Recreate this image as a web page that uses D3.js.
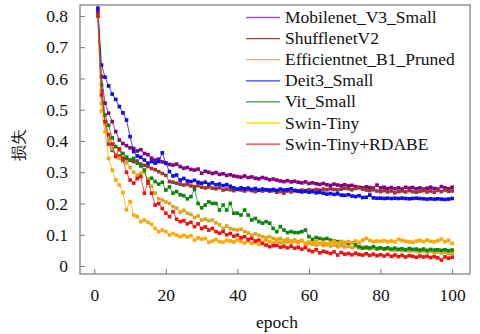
<!DOCTYPE html>
<html><head><meta charset="utf-8">
<script src="https://cdn.jsdelivr.net/npm/d3@7"></script>
</head><body style="margin:0">
<svg id="chart" width="480" height="334" style="display:block"></svg>
<script>
const seriesNames = ["Mobilenet_V3_Small","ShufflenetV2","Efficientnet_B1_Pruned","Deit3_Small","Vit_Small","Swin-Tiny","Swin-Tiny+RDABE"];
const seriesColors = ["#800080","#a03232","#daa520","#0a0aee","#0a850a","#ffa500","#ee1010"];
const legendColors = ["#9b59b6","#a0403a","#e8b650","#3c3cff","#3a9a3a","#ffdd00","#ee3030"];
const xTicks = [0,20,40,60,80,100];
const yTicks = [0,0.1,0.2,0.3,0.4,0.5,0.6,0.7,0.8];
const yTickLabels = ["0","0.1","0.2","0.3","0.4","0.5","0.6","0.7","0.8"];
const xLabel = "epoch";
const yLabel = "损失";

const mobilenet = [
0.815,0.606,0.521,0.489,0.462,0.430,0.403,0.392,0.385,0.378,
0.376,0.368,0.372,0.360,0.356,0.345,0.339,0.342,0.333,0.329,
0.325,0.323,0.326,0.318,0.313,0.315,0.309,0.307,0.310,0.297,
0.303,0.300,0.296,0.299,0.293,0.295,0.290,0.292,0.288,0.286,
0.284,0.288,0.283,0.285,0.281,0.279,0.283,0.280,0.276,0.278,
0.275,0.272,0.270,0.273,0.269,0.271,0.268,0.266,0.269,0.264,
0.266,0.263,0.261,0.264,0.260,0.258,0.262,0.259,0.257,0.260,
0.256,0.258,0.254,0.252,0.250,0.253,0.251,0.249,0.259,0.250,
0.252,0.248,0.251,0.247,0.250,0.246,0.252,0.249,0.251,0.247,
0.250,0.246,0.249,0.252,0.248,0.246,0.254,0.250,0.247,0.252];
const shufflenet = [
0.810,0.560,0.460,0.390,0.370,0.355,0.352,0.345,0.343,0.338,
0.334,0.336,0.326,0.322,0.318,0.312,0.308,0.302,0.296,0.290,
0.270,0.268,0.265,0.262,0.259,0.261,0.256,0.254,0.257,0.252,
0.250,0.253,0.249,0.247,0.250,0.243,0.246,0.244,0.241,0.245,
0.243,0.240,0.244,0.241,0.238,0.242,0.240,0.243,0.239,0.241,
0.236,0.238,0.233,0.240,0.237,0.242,0.239,0.243,0.241,0.244,
0.242,0.245,0.243,0.246,0.244,0.247,0.245,0.243,0.246,0.249,
0.247,0.244,0.248,0.250,0.246,0.243,0.241,0.244,0.240,0.238,
0.241,0.237,0.240,0.234,0.238,0.240,0.237,0.241,0.238,0.236,
0.239,0.241,0.237,0.240,0.236,0.242,0.238,0.243,0.239,0.240];
const efficientnet = [
0.800,0.520,0.455,0.405,0.375,0.355,0.345,0.337,0.330,0.315,
0.300,0.291,0.297,0.300,0.278,0.255,0.233,0.215,0.211,0.205,
0.200,0.190,0.185,0.172,0.178,0.169,0.165,0.155,0.160,0.147,
0.150,0.145,0.147,0.138,0.132,0.120,0.128,0.120,0.117,0.115,
0.118,0.110,0.106,0.099,0.103,0.098,0.094,0.090,0.094,0.088,
0.085,0.088,0.082,0.086,0.080,0.083,0.078,0.082,0.068,0.072,
0.070,0.067,0.071,0.066,0.068,0.064,0.067,0.062,0.065,0.061,
0.063,0.059,0.062,0.058,0.060,0.057,0.055,0.058,0.054,0.056,
0.053,0.055,0.052,0.050,0.053,0.049,0.051,0.048,0.050,0.047,
0.046,0.048,0.044,0.047,0.043,0.045,0.042,0.044,0.041,0.040];
const deit3 = [
0.825,0.643,0.604,0.576,0.550,0.533,0.510,0.490,0.467,0.414,
0.366,0.352,0.348,0.339,0.329,0.334,0.329,0.334,0.362,0.329,
0.302,0.288,0.291,0.275,0.280,0.272,0.270,0.274,0.268,0.265,
0.268,0.262,0.266,0.260,0.262,0.257,0.260,0.255,0.250,0.246,
0.250,0.247,0.249,0.245,0.248,0.243,0.246,0.244,0.243,0.245,
0.242,0.246,0.243,0.244,0.247,0.241,0.240,0.237,0.239,0.236,
0.238,0.234,0.236,0.233,0.230,0.232,0.229,0.231,0.227,0.226,
0.228,0.224,0.222,0.225,0.219,0.220,0.227,0.218,0.217,0.217,
0.216,0.217,0.216,0.217,0.216,0.217,0.216,0.215,0.216,0.217,
0.216,0.215,0.214,0.215,0.214,0.215,0.214,0.213,0.214,0.216];
const vit = [
0.800,0.580,0.483,0.450,0.410,0.382,0.372,0.360,0.348,0.339,
0.344,0.329,0.320,0.307,0.265,0.281,0.270,0.262,0.268,0.243,
0.253,0.233,0.238,0.228,0.225,0.215,0.222,0.245,0.200,0.186,
0.195,0.205,0.200,0.200,0.179,0.195,0.179,0.200,0.169,0.169,
0.163,0.179,0.163,0.147,0.152,0.142,0.137,0.142,0.137,0.120,
0.110,0.126,0.115,0.107,0.110,0.107,0.107,0.110,0.115,0.094,
0.085,0.091,0.088,0.085,0.088,0.083,0.080,0.078,0.078,0.075,
0.073,0.073,0.068,0.062,0.057,0.060,0.058,0.062,0.056,0.058,
0.055,0.058,0.054,0.057,0.053,0.055,0.052,0.056,0.053,0.054,
0.051,0.054,0.050,0.053,0.051,0.052,0.050,0.052,0.049,0.051];
const swinTiny = [
0.800,0.496,0.430,0.344,0.307,0.275,0.259,0.235,0.180,0.206,
0.163,0.158,0.142,0.147,0.140,0.133,0.120,0.110,0.115,0.110,
0.099,0.104,0.099,0.094,0.098,0.093,0.097,0.083,0.090,0.086,
0.088,0.076,0.080,0.085,0.078,0.076,0.082,0.080,0.077,0.083,
0.078,0.074,0.079,0.073,0.075,0.070,0.076,0.083,0.078,0.074,
0.080,0.076,0.072,0.078,0.074,0.079,0.075,0.080,0.073,0.077,
0.074,0.078,0.072,0.076,0.071,0.075,0.079,0.073,0.077,0.074,
0.078,0.073,0.080,0.076,0.083,0.088,0.082,0.078,0.080,0.079,
0.081,0.078,0.080,0.077,0.085,0.082,0.079,0.077,0.076,0.080,
0.082,0.078,0.083,0.079,0.077,0.081,0.086,0.078,0.082,0.072];
const swinRdabe = [
0.800,0.547,0.462,0.420,0.390,0.350,0.375,0.340,0.300,0.275,
0.265,0.280,0.286,0.233,0.270,0.233,0.195,0.200,0.184,0.169,
0.158,0.174,0.150,0.142,0.145,0.135,0.140,0.126,0.135,0.120,
0.125,0.115,0.120,0.110,0.105,0.110,0.100,0.104,0.095,0.099,
0.090,0.094,0.085,0.088,0.080,0.083,0.072,0.067,0.062,0.065,
0.066,0.060,0.062,0.058,0.063,0.057,0.060,0.054,0.059,0.050,
0.046,0.052,0.042,0.047,0.044,0.040,0.045,0.035,0.043,0.038,
0.040,0.036,0.041,0.037,0.035,0.039,0.034,0.038,0.033,0.036,
0.032,0.037,0.031,0.035,0.030,0.034,0.029,0.033,0.031,0.028,
0.032,0.029,0.031,0.027,0.030,0.026,0.019,0.029,0.025,0.028];

const seriesValues = [mobilenet, shufflenet, efficientnet, deit3, vit, swinTiny, swinRdabe];

const svg = d3.select("#chart");
const L = 80, R = 470, T = 5, B = 274;
const x = d3.scaleLinear().domain([-4, 105]).range([L, R]);
const y = d3.scaleLinear().domain([-0.0256, 0.835]).range([B, T]);
const serif = "Liberation Serif";
const fs = 17.5;
const frameColor = "#7a7a7a";

// axes
const xAxis = d3.axisBottom(x).tickValues(xTicks).tickSizeInner(-5).tickSizeOuter(0).tickPadding(15);
const gx = svg.append("g").attr("transform", `translate(0,${B})`).call(xAxis)
  .attr("font-family", serif).attr("font-size", fs);
gx.select(".domain").remove();
gx.selectAll(".tick line").attr("stroke", frameColor);
gx.selectAll(".tick text").attr("fill", "#111");

const yAxis = d3.axisLeft(y).tickValues(yTicks).tickSizeInner(-5).tickSizeOuter(0).tickPadding(12)
  .tickFormat((d, i) => yTickLabels[i]);
const gy = svg.append("g").attr("transform", `translate(${L},0)`).call(yAxis)
  .attr("font-family", serif).attr("font-size", fs);
gy.select(".domain").remove();
gy.selectAll(".tick line").attr("stroke", frameColor);
gy.selectAll(".tick text").attr("fill", "#111");

// series
const line = d3.line().x((d, i) => x(i + 1)).y(d => y(d));
seriesValues.forEach((vals, k) => {
  const g = svg.append("g");
  g.append("path").datum(vals).attr("d", line).attr("fill", "none")
    .attr("stroke", seriesColors[k]).attr("stroke-width", 0.9).attr("stroke-opacity", 0.85);
  g.selectAll("rect").data(vals).enter().append("rect")
    .attr("x", (d, i) => x(i + 1) - 1.8).attr("y", d => y(d) - 1.8)
    .attr("width", 3.6).attr("height", 3.6).attr("fill", seriesColors[k]);
});

// frame
svg.append("rect").attr("x", L).attr("y", T).attr("width", R - L).attr("height", B - T)
  .attr("fill", "none").attr("stroke", frameColor).attr("stroke-width", 1.2);

// legend
const legY0 = 17.5, legDy = 21.1;
seriesNames.forEach((name, k) => {
  const ly = legY0 + k * legDy;
  svg.append("line").attr("x1", 246).attr("x2", 280).attr("y1", ly).attr("y2", ly)
    .attr("stroke", legendColors[k]).attr("stroke-width", 1.3);
  svg.append("text").attr("x", 285).attr("y", ly + 5.5).text(name)
    .attr("font-family", serif).attr("font-size", fs).attr("fill", "#111");
});

// labels
svg.append("text").attr("x", 277).attr("y", 328).attr("text-anchor", "middle").text(xLabel)
  .attr("font-family", serif).attr("font-size", fs).attr("fill", "#111");
svg.append("text").attr("transform", "translate(24,145) rotate(-90)").attr("text-anchor", "middle").text(yLabel)
  .attr("font-family", serif).attr("font-size", 16).attr("fill", "#111");
</script>
</body></html>
